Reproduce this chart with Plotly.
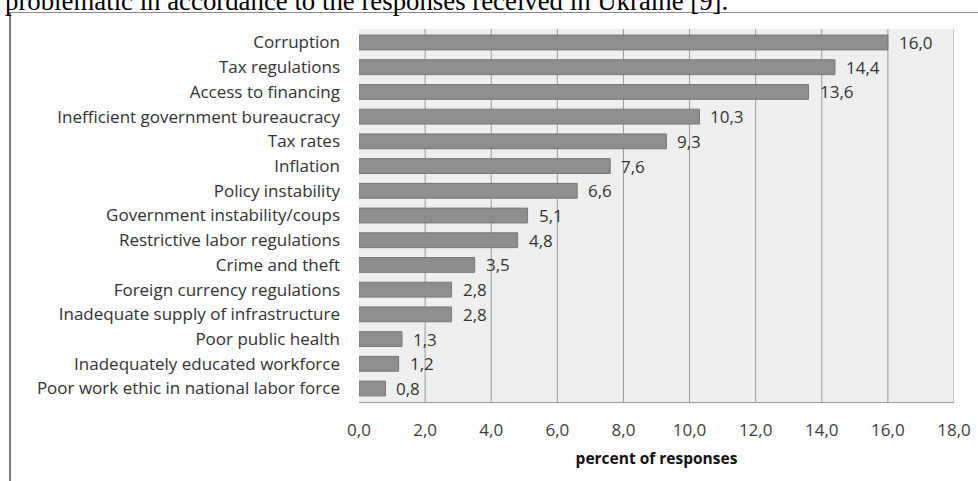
import plotly.graph_objects as go

categories = [
    "Corruption",
    "Tax regulations",
    "Access to financing",
    "Inefficient government bureaucracy",
    "Tax rates",
    "Inflation",
    "Policy instability",
    "Government instability/coups",
    "Restrictive labor regulations",
    "Crime and theft",
    "Foreign currency regulations",
    "Inadequate supply of infrastructure",
    "Poor public health",
    "Inadequately educated workforce",
    "Poor work ethic in national labor force",
]
values = [16.0, 14.4, 13.6, 10.3, 9.3, 7.6, 6.6, 5.1, 4.8, 3.5, 2.8, 2.8, 1.3, 1.2, 0.8]
x_ticks = [0, 2, 4, 6, 8, 10, 12, 14, 16, 18]
caption = "problematic in accordance to the responses received in Ukraine [9]."

W, H = 978, 481
L, R, T, B = 359, 24, 29, 79
pw, ph = W - L - R, H - T - B


def px_x(px):
    return (px - L) / pw


def px_y(py):
    return (H - B - py) / ph


font = "Open Sans, Liberation Sans, sans-serif"

fig = go.Figure(
    go.Bar(
        x=values,
        y=categories,
        orientation="h",
        width=0.6,
        marker=dict(color="#8e8e8e", line=dict(color="#787878", width=1)),
        hoverinfo="skip",
    )
)

# value labels next to each bar
for c, v in zip(categories, values):
    fig.add_annotation(
        x=v, y=c, xref="x", yref="y",
        text=f"{v:.1f}".replace(".", ","),
        showarrow=False, xanchor="left", xshift=9,
        font=dict(family=font, size=17, color="#333333"),
    )

shapes = []
# vertical gridlines
for t in x_ticks[1:]:
    shapes.append(dict(type="line", xref="x", yref="paper", x0=t, x1=t, y0=0, y1=1,
                       line=dict(color="#9a9a9a", width=1), layer="below"))
# outer frame lines
shapes.append(dict(type="line", xref="paper", yref="paper",
                   x0=px_x(9), x1=px_x(W), y0=px_y(12.5), y1=px_y(12.5),
                   line=dict(color="#8a8a8a", width=1)))
shapes.append(dict(type="line", xref="paper", yref="paper",
                   x0=px_x(10), x1=px_x(10), y0=px_y(12), y1=px_y(H + 2),
                   line=dict(color="#7a7a7a", width=2)))

fig.add_annotation(
    x=px_x(3), y=px_y(18), xref="paper", yref="paper",
    text=caption, showarrow=False, xanchor="left", yanchor="bottom",
    font=dict(family="Liberation Serif, Times New Roman, serif", size=26.8, color="#000000"),
)

fig.update_layout(
    width=W, height=H,
    margin=dict(l=L, r=R, t=T, b=B, pad=0, autoexpand=False),
    paper_bgcolor="#fdfdfd",
    plot_bgcolor="#efefef",
    showlegend=False,
    shapes=shapes,
    font=dict(family=font, size=17, color="#333333"),
    xaxis=dict(
        range=[0, 18], tickvals=x_ticks,
        ticktext=[f"{t:.1f}".replace(".", ",") for t in x_ticks],
        showgrid=False, zeroline=False,
        showline=True, linecolor="#9a9a9a", linewidth=1,
        ticks="", ticklabelstandoff=13, automargin=False,
        tickfont=dict(family=font, size=17, color="#404040"),
        title=dict(text="<b>percent of responses</b>", standoff=12,
                   font=dict(family=font, size=15.5, color="#111111")),
        fixedrange=True,
    ),
    yaxis=dict(
        type="category", autorange="reversed",
        showgrid=False, zeroline=False, showline=False,
        ticks="", ticklabelstandoff=18, automargin=False,
        tickfont=dict(family=font, size=17, color="#333333"),
        fixedrange=True,
    ),
)

fig.write_html("out.html", config={"displayModeBar": False})
